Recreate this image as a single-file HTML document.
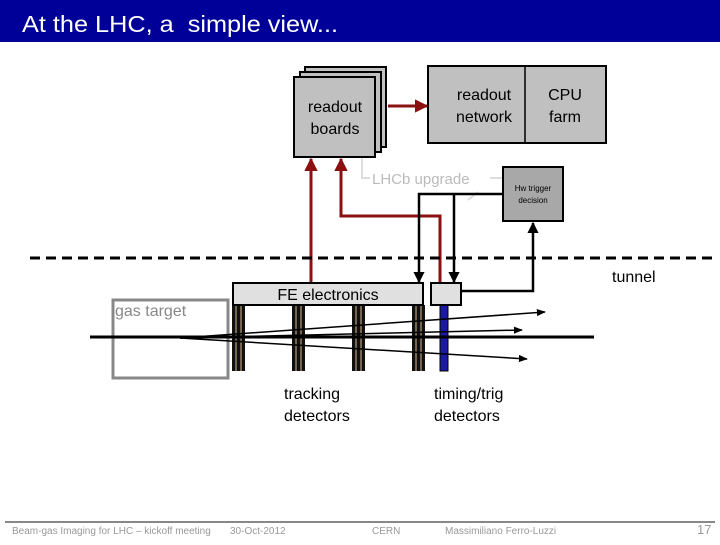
<!DOCTYPE html>
<html><head><meta charset="utf-8"><style>
body{margin:0;width:720px;height:540px;overflow:hidden;background:#fff;font-family:"Liberation Sans",sans-serif}
</style></head><body>
<svg width="720" height="540" viewBox="0 0 720 540" xmlns="http://www.w3.org/2000/svg" font-family="Liberation Sans, sans-serif">
<defs>
<marker id="ar" viewBox="0 0 10 10" refX="9" refY="5" markerWidth="4.5" markerHeight="4.5" orient="auto"><path d="M0,0L10,5L0,10z" fill="#8b1010"/></marker>
<marker id="ab" viewBox="0 0 10 10" refX="9" refY="5" markerWidth="4.5" markerHeight="4.5" orient="auto"><path d="M0,0L10,5L0,10z" fill="#000"/></marker>
<marker id="at" viewBox="0 0 10 10" refX="9" refY="5" markerWidth="6" markerHeight="6" orient="auto"><path d="M0,1L10,5L0,9z" fill="#000"/></marker>
</defs>
<rect x="0" y="0" width="720" height="42" fill="#000099"/>
<text x="22" y="32" font-size="23" fill="#fff" textLength="316" lengthAdjust="spacingAndGlyphs">At the LHC, a&#160; simple view...</text>

<rect x="305" y="67" width="81" height="80" fill="#c0c0c0" stroke="#000" stroke-width="2"/>
<rect x="300" y="72" width="81" height="80" fill="#c0c0c0" stroke="#000" stroke-width="2"/>
<rect x="294" y="77" width="81" height="80" fill="#c0c0c0" stroke="#000" stroke-width="2"/>
<text x="335" y="112" font-size="16" text-anchor="middle">readout</text>
<text x="335" y="134" font-size="16" text-anchor="middle">boards</text>
<rect x="428" y="66" width="178" height="77" fill="#c0c0c0" stroke="#000" stroke-width="2"/>
<line x1="525" y1="66" x2="525" y2="143" stroke="#000" stroke-width="1.5"/>
<text x="484" y="100" font-size="16" text-anchor="middle">readout</text>
<text x="484" y="122" font-size="16" text-anchor="middle">network</text>
<text x="565" y="100" font-size="16" text-anchor="middle">CPU</text>
<text x="565" y="122" font-size="16" text-anchor="middle">farm</text>
<line x1="388" y1="106" x2="427" y2="106" stroke="#8b1010" stroke-width="3" marker-end="url(#ar)"/>

<path d="M362,158 L362,178 L370,178" fill="none" stroke="#ddd" stroke-width="2"/>
<text x="372" y="184" font-size="15" fill="#bbb">LHCb upgrade</text>
<line x1="490" y1="178" x2="503" y2="178" stroke="#ddd" stroke-width="2"/>
<line x1="468" y1="200" x2="478" y2="192" stroke="#ddd" stroke-width="2"/>

<rect x="503" y="167" width="60" height="54" fill="#a8a8a8" stroke="#000" stroke-width="2"/>
<text x="533" y="191" font-size="8" text-anchor="middle">Hw trigger</text>
<text x="533" y="203" font-size="8" text-anchor="middle">decision</text>

<line x1="311" y1="283" x2="311" y2="159" stroke="#8b1010" stroke-width="3" marker-end="url(#ar)"/>
<polyline points="440,283 440,216 341,216 341,159" fill="none" stroke="#8b1010" stroke-width="3" marker-end="url(#ar)"/>
<polyline points="503,194 419,194 419,282" fill="none" stroke="#000" stroke-width="2.5" marker-end="url(#ab)"/>
<line x1="454" y1="194" x2="454" y2="282" stroke="#000" stroke-width="2.5" marker-end="url(#ab)"/>
<polyline points="461,291 533,291 533,223" fill="none" stroke="#000" stroke-width="2.5" marker-end="url(#ab)"/>

<line x1="30" y1="258" x2="712" y2="258" stroke="#000" stroke-width="3" stroke-dasharray="10,6"/>
<text x="612" y="282" font-size="16">tunnel</text>

<rect x="113" y="300" width="115" height="78" fill="none" stroke="#888" stroke-width="3"/>
<text x="115" y="316" font-size="16" fill="#888">gas target</text>

<g>
<rect x="232" y="305" width="13" height="66" fill="#111"/><line x1="236" y1="305" x2="236" y2="371" stroke="#d8b890" stroke-width="1"/><line x1="241" y1="305" x2="241" y2="371" stroke="#d8b890" stroke-width="1"/>
<rect x="292" y="305" width="13" height="66" fill="#111"/><line x1="296" y1="305" x2="296" y2="371" stroke="#d8b890" stroke-width="1"/><line x1="301" y1="305" x2="301" y2="371" stroke="#d8b890" stroke-width="1"/>
<rect x="352" y="305" width="13" height="66" fill="#111"/><line x1="356" y1="305" x2="356" y2="371" stroke="#d8b890" stroke-width="1"/><line x1="361" y1="305" x2="361" y2="371" stroke="#d8b890" stroke-width="1"/>
<rect x="412" y="305" width="13" height="66" fill="#111"/><line x1="416" y1="305" x2="416" y2="371" stroke="#d8b890" stroke-width="1"/><line x1="421" y1="305" x2="421" y2="371" stroke="#d8b890" stroke-width="1"/>
<rect x="440" y="305" width="8" height="66" fill="#1a1aa0" stroke="#000" stroke-width="1"/>
</g>
<rect x="233" y="283" width="190" height="22" fill="#e0e0e0" stroke="#000" stroke-width="2"/>
<text x="328" y="300" font-size="16" text-anchor="middle">FE electronics</text>
<rect x="431" y="283" width="30" height="22" fill="#e0e0e0" stroke="#000" stroke-width="2"/>

<line x1="90" y1="337" x2="594" y2="337" stroke="#000" stroke-width="3"/>
<line x1="180" y1="338" x2="545" y2="312" stroke="#000" stroke-width="1.5" marker-end="url(#at)"/>
<line x1="180" y1="338" x2="522" y2="330" stroke="#000" stroke-width="1.5" marker-end="url(#at)"/>
<line x1="180" y1="338" x2="527" y2="359" stroke="#000" stroke-width="1.5" marker-end="url(#at)"/>

<text x="284" y="399" font-size="16">tracking</text>
<text x="284" y="421" font-size="16">detectors</text>
<text x="434" y="399" font-size="16">timing/trig</text>
<text x="434" y="421" font-size="16">detectors</text>

<line x1="5" y1="522" x2="715" y2="522" stroke="#888" stroke-width="2"/>
<g font-size="10" fill="#999">
<text x="12" y="534">Beam-gas Imaging for LHC – kickoff meeting</text>
<text x="230" y="534">30-Oct-2012</text>
<text x="372" y="534">CERN</text>
<text x="445" y="534">Massimiliano Ferro-Luzzi</text>
<text x="697" y="534" font-size="13">17</text>
</g>
</svg>
</body></html>
